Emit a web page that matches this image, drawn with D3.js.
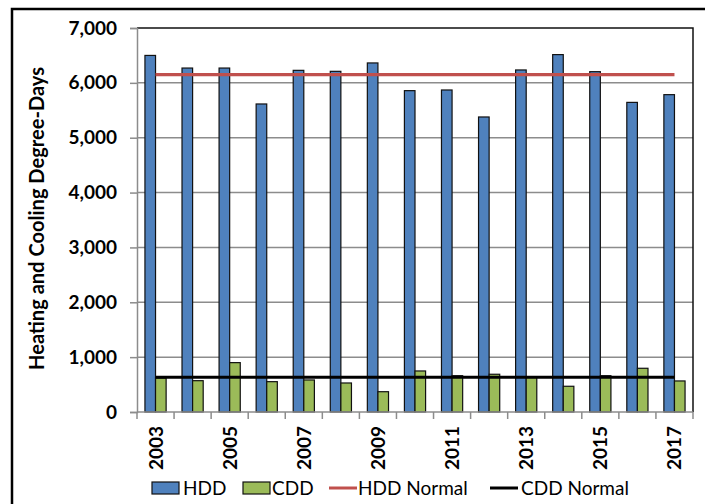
<!DOCTYPE html>
<html>
<head>
<meta charset="utf-8">
<script src="https://d3js.org/d3.v7.min.js"></script>
<style>
  body { margin: 0; background: #fff; }
  svg { display: block; }
</style>
</head>
<body>
<svg id="chart" width="705" height="504"></svg>
<script>
const years = ['2003','2004','2005','2006','2007','2008','2009','2010','2011','2012','2013','2014','2015','2016','2017'];
const hdd = [6500, 6270, 6270, 5615, 6228, 6210, 6363, 5858, 5870, 5378, 6235, 6515, 6204, 5644, 5785];
const cdd = [620, 571, 900, 553, 584, 529, 370, 748, 662, 688, 630, 469, 662, 797, 566];
const hddNormal = 6150;
const cddNormal = 633;
const yTicks = [0, 1000, 2000, 3000, 4000, 5000, 6000, 7000];

const font = 'Lato, "Open Sans", Arial, sans-serif';
const svg = d3.select('#chart');

const plot = { left: 137, top: 28, right: 693, bottom: 412 };

const x = d3.scaleBand()
  .domain(years)
  .range([plot.left, plot.right])
  .paddingInner(0)
  .paddingOuter(0);

const y = d3.scaleLinear()
  .domain([0, 7000])
  .range([plot.bottom, plot.top]);

const barW = x.step() / 3.5;

// outer frame
svg.append('rect')
  .attr('x', 12)
  .attr('y', 9)
  .attr('width', 720)
  .attr('height', 520)
  .attr('fill', 'none')
  .attr('stroke', '#000')
  .attr('stroke-width', 2.5);

// gridlines
svg.append('g')
  .selectAll('line')
  .data(yTicks.filter(d => d > 0 && d < 7000))
  .join('line')
  .attr('x1', plot.left)
  .attr('x2', plot.right)
  .attr('y1', d => y(d))
  .attr('y2', d => y(d))
  .attr('stroke', '#8c8c8c')
  .attr('stroke-width', 1.5);

// plot border (top + right)
svg.append('path')
  .attr('d', `M${plot.left},${plot.top}H${plot.right}V${plot.bottom}`)
  .attr('fill', 'none')
  .attr('stroke', '#111')
  .attr('stroke-width', 1.5);

// y axis
const yAxis = svg.append('g')
  .attr('transform', `translate(${plot.left},0)`)
  .call(d3.axisLeft(y).tickValues(yTicks).tickSize(7).tickFormat(d3.format(',')));
yAxis.select('.domain').attr('stroke', '#8c8c8c').attr('stroke-width', 1.5);
yAxis.selectAll('.tick line').attr('stroke', '#8c8c8c').attr('stroke-width', 1.5);
yAxis.selectAll('.tick text')
  .attr('x', -20)
  .attr('fill', '#000')
  .attr('font-family', font)
  .attr('font-weight', 'bold')
  .attr('font-size', '19px');

// bars
const groups = svg.append('g')
  .selectAll('g')
  .data(years)
  .join('g');

groups.append('rect')
  .attr('x', (d, i) => x(d) + x.step() / 2 - barW)
  .attr('y', (d, i) => y(hdd[i]))
  .attr('width', barW)
  .attr('height', (d, i) => y(0) - y(hdd[i]))
  .attr('fill', '#4f81bd')
  .attr('stroke', '#111')
  .attr('stroke-width', 1.2);

groups.append('rect')
  .attr('x', (d, i) => x(d) + x.step() / 2)
  .attr('y', (d, i) => y(cdd[i]))
  .attr('width', barW)
  .attr('height', (d, i) => y(0) - y(cdd[i]))
  .attr('fill', '#9bbb59')
  .attr('stroke', '#111')
  .attr('stroke-width', 1.2);

// x axis
const xAxis = svg.append('g')
  .attr('transform', `translate(0,${plot.bottom})`);
xAxis.append('line')
  .attr('x1', plot.left)
  .attr('x2', plot.right)
  .attr('stroke', '#8c8c8c')
  .attr('stroke-width', 1.5);
xAxis.selectAll('.xtick')
  .data(years.concat(['end']))
  .join('line')
  .attr('class', 'xtick')
  .attr('x1', (d, i) => plot.left + i * x.step())
  .attr('x2', (d, i) => plot.left + i * x.step())
  .attr('y1', 0)
  .attr('y2', 7)
  .attr('stroke', '#8c8c8c')
  .attr('stroke-width', 1.5);
xAxis.selectAll('.xlabel')
  .data(years.filter((d, i) => i % 2 === 0))
  .join('text')
  .attr('class', 'xlabel')
  .attr('transform', d => `translate(${x(d) + x.step() / 2 + 7},14) rotate(-90)`)
  .attr('text-anchor', 'end')
  .attr('fill', '#000')
  .attr('font-family', font)
  .attr('font-weight', 'bold')
  .attr('font-size', '19px')
  .text(d => d);

// normal lines
const first = x(years[0]) + x.step() / 2;
const last = x(years[years.length - 1]) + x.step() / 2;

svg.append('line')
  .attr('x1', first)
  .attr('x2', last)
  .attr('y1', y(hddNormal))
  .attr('y2', y(hddNormal))
  .attr('stroke', '#c0504d')
  .attr('stroke-width', 3.2);

svg.append('line')
  .attr('x1', first)
  .attr('x2', last)
  .attr('y1', y(cddNormal))
  .attr('y2', y(cddNormal))
  .attr('stroke', '#000')
  .attr('stroke-width', 3);

// y title - sized so it spans about 303px like the original
const title = svg.append('text')
  .attr('transform', `translate(44,218.5) rotate(-90)`)
  .attr('text-anchor', 'middle')
  .attr('fill', '#000')
  .attr('font-family', font)
  .attr('font-weight', 'bold')
  .attr('font-size', '18px')
  .text('Heating and Cooling Degree-Days');
const len = title.node().getComputedTextLength();
if (len > 0) title.attr('font-size', (18 * 303 / len).toFixed(2) + 'px');

// legend
const legend = svg.append('g').attr('transform', 'translate(0,488)');
const items = [
  { name: 'HDD', type: 'rect', color: '#4f81bd', x: 152, tx: 183 },
  { name: 'CDD', type: 'rect', color: '#9bbb59', x: 243, tx: 272 },
  { name: 'HDD Normal', type: 'line', color: '#c0504d', x: 329, tx: 358 },
  { name: 'CDD Normal', type: 'line', color: '#000', x: 490, tx: 521 }
];
items.forEach(it => {
  if (it.type === 'rect') {
    legend.append('rect')
      .attr('x', it.x)
      .attr('y', -6)
      .attr('width', 27)
      .attr('height', 12)
      .attr('fill', it.color)
      .attr('stroke', '#111')
      .attr('stroke-width', 1.2);
  } else {
    legend.append('line')
      .attr('x1', it.x)
      .attr('x2', it.x + 28)
      .attr('stroke', it.color)
      .attr('stroke-width', 3);
  }
  legend.append('text')
    .attr('x', it.tx)
    .attr('dy', '0.36em')
    .attr('fill', '#000')
    .attr('font-family', font)
    .attr('font-size', '19px')
    .text(it.name);
});
</script>
</body>
</html>
